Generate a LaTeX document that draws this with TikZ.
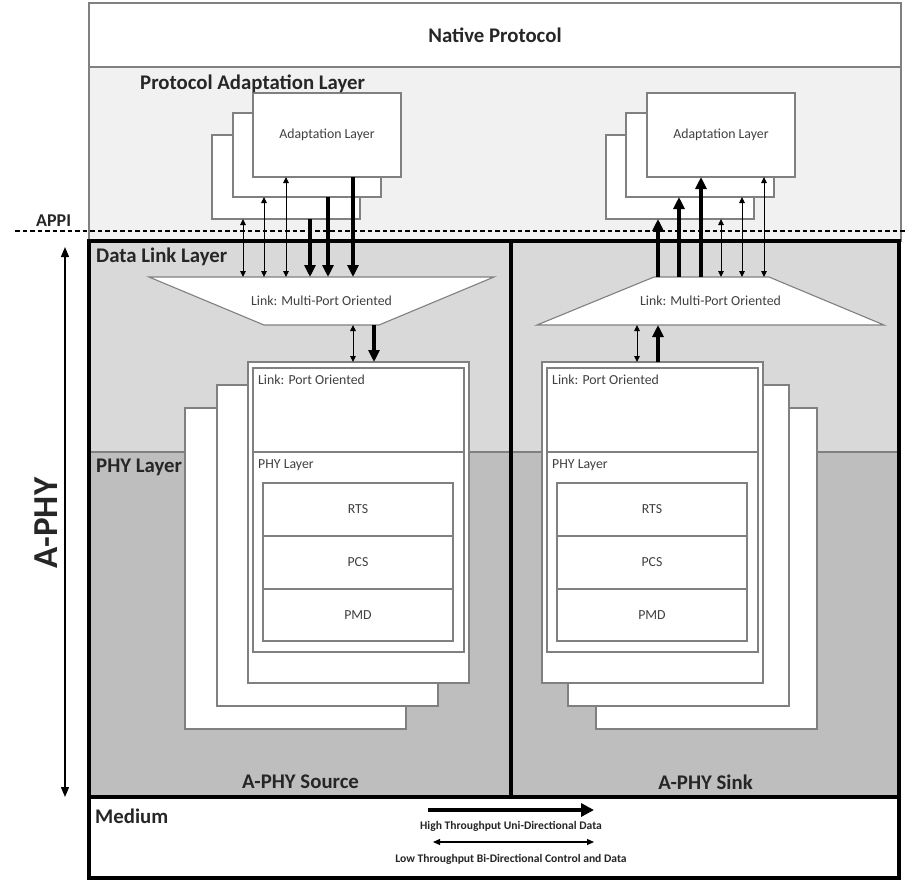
\documentclass[tikz,border=0pt]{standalone}
\usepackage{fontspec}
\setmainfont{Carlito}
\usetikzlibrary{arrows.meta,calc}
\definecolor{palgray}{HTML}{F1F1F1}
\definecolor{dllgray}{HTML}{D9D9D9}
\definecolor{phygray}{HTML}{BEBEBE}
\definecolor{edgegray}{HTML}{808080}
\definecolor{txtgray}{HTML}{404040}
\definecolor{headblack}{HTML}{262626}
\begin{document}
\begin{tikzpicture}[x=1pt,y=-1pt,
  band/.style={anchor=north west, inner sep=0pt, outer sep=0pt},
  plainbox/.style={draw=edgegray, fill=white, line width=1.1pt, inner sep=0pt, outer sep=0pt, anchor=north west},
  heading/.style={font=\bfseries\fontsize{20.8}{22}\selectfont, text=headblack, inner sep=0pt},
  boxlabel/.style={font=\fontsize{13.8}{15}\selectfont, text=txtgray, inner sep=0pt},
  legendtext/.style={font=\bfseries\fontsize{11.6}{13}\selectfont, text=headblack, inner sep=0pt},
  frame/.style={line width=4pt, draw=black},
  edge/.style={draw=edgegray, line width=1.1pt},
  thinarr/.style={line width=0.9pt, arrows={Triangle[length=6pt,width=5.5pt]-Triangle[length=6pt,width=5.5pt]}},
  thickarr/.style={line width=3.5pt, arrows={-Triangle[length=12pt,width=11pt]}},
]
\useasboundingbox (0,0) rectangle (908,881);

% ---- horizontal bands ----
\node[plainbox, minimum width=812pt, minimum height=64pt] (native) at (89,3) {};
\node[band, draw=edgegray, line width=1.1pt, fill=palgray, minimum width=812pt, minimum height=174pt] (pal) at (89,67) {};
\node[band, fill=dllgray, minimum width=810pt, minimum height=211pt] (dll) at (89,241) {};
\node[band, fill=phygray, minimum width=810pt, minimum height=345pt] (phy) at (89,452) {};
\node[band, fill=white, minimum width=810pt, minimum height=81pt] (medium) at (89,797) {};
\draw[edge] (phy.north west) -- (phy.north east);

% ---- APPI interface line ----
\coordinate (appiL) at (15,231);
\coordinate (appiR) at (908,231);
\draw[line width=1.8pt, dash pattern=on 4.5pt off 3pt] (appiL) -- (appiR);

% ---- adaptation layer stacks ----
\foreach \n/\x/\y in {alL3/212/135, alL2/233/113, alL1/253/93,
                      alR3/606/135, alR2/626/113, alR1/647/93}
  \node[plainbox, minimum width=148pt, minimum height=84pt] (\n) at (\x,\y) {};
\node[boxlabel] (alLtxt) at ($(alL1.north)+(0,42)$) {Adaptation Layer};
\node[boxlabel] (alRtxt) at ($(alR1.north)+(0,42)$) {Adaptation Layer};

% ---- multi-port link blocks ----
\node[band, anchor=center, minimum width=345pt, minimum height=48pt] (mpL) at (321.5,301) {};
\draw[edge, fill=white] (mpL.north west) -- (mpL.north east)
  -- ([xshift=-115pt]mpL.south east) -- ([xshift=115pt]mpL.south west) -- cycle;
\node[boxlabel] (mpLtxt) at (mpL.center) {Link: Multi-Port Oriented};

\node[band, anchor=center, minimum width=347pt, minimum height=48pt] (mpR) at (710.5,301) {};
\draw[edge, fill=white] ([xshift=117pt]mpR.north west) -- ([xshift=-115pt]mpR.north east)
  -- (mpR.south east) -- (mpR.south west) -- cycle;
\node[boxlabel] (mpRtxt) at (mpR.center) {Link: Multi-Port Oriented};

% ---- port oriented stacks ----
\foreach \n/\x/\y in {poL3/185/408, poL2/217/385, poL1/248/362,
                      poR3/596/408, poR2/568/385, poR1/542/362}
  \node[plainbox, minimum width=221pt, minimum height=321pt] (\n) at (\x,\y) {};
\node[plainbox, minimum width=211pt, minimum height=284pt] (poL1i) at (253,368) {};
\node[plainbox, minimum width=211pt, minimum height=284pt] (poR1i) at (547,368) {};
\draw[edge] (poL1i.west |- phy.north) -- (poL1i.east |- phy.north);
\draw[edge] (poR1i.west |- phy.north) -- (poR1i.east |- phy.north);
\node[boxlabel, anchor=west] (portL) at (258,380) {Link: Port Oriented};
\node[boxlabel, anchor=west] (portR) at (552,380) {Link: Port Oriented};
\node[boxlabel, anchor=west] (phyLtxt) at (258,465) {PHY Layer};
\node[boxlabel, anchor=west] (phyRtxt) at (552,465) {PHY Layer};

\foreach \s/\x in {L/263, R/557} {
  \node[plainbox, minimum width=190pt, minimum height=53pt] (rts\s) at (\x,483) {};
  \node[plainbox, minimum width=190pt, minimum height=53pt] (pcs\s) at (\x,536) {};
  \node[plainbox, minimum width=190pt, minimum height=52pt] (pmd\s) at (\x,589) {};
  \node[boxlabel] at (rts\s.center) {RTS};
  \node[boxlabel] at (pcs\s.center) {PCS};
  \node[boxlabel] at (pmd\s.center) {PMD};
}

% ---- A-PHY frame ----
\draw[frame] (dll.north west) rectangle (phy.south east);
\draw[frame] (511,0 |- dll.north) -- (511,0 |- phy.south);
\draw[frame] (medium.north west) rectangle (medium.south east);

% ---- connectors, source side ----
\draw[thinarr] (243,0 |- alL3.south) -- (243,0 |- mpL.north);
\draw[thinarr] (264,0 |- alL2.south) -- (264,0 |- mpL.north);
\draw[thinarr] (286,0 |- alL1.south) -- (286,0 |- mpL.north);
\draw[thickarr] (310,0 |- alL3.south) -- (310,0 |- mpL.north);
\draw[thickarr] (328,0 |- alL2.south) -- (328,0 |- mpL.north);
\draw[thickarr] (353,0 |- alL1.south) -- (353,0 |- mpL.north);
\draw[thinarr] (353,0 |- mpL.south) -- (353,0 |- poL1.north);
\draw[thickarr] (374,0 |- mpL.south) -- (374,0 |- poL1.north);

% ---- connectors, sink side ----
\draw[thickarr] (658,0 |- mpR.north) -- (658,0 |- alR3.south);
\draw[thickarr] (679,0 |- mpR.north) -- (679,0 |- alR2.south);
\draw[thickarr] (701,0 |- mpR.north) -- (701,0 |- alR1.south);
\draw[thinarr] (721,0 |- mpR.north) -- (721,0 |- alR3.south);
\draw[thinarr] (742,0 |- mpR.north) -- (742,0 |- alR2.south);
\draw[thinarr] (764,0 |- mpR.north) -- (764,0 |- alR1.south);
\draw[thinarr] (637,0 |- poR1.north) -- (637,0 |- mpR.south);
\draw[thickarr] (658,0 |- poR1.north) -- (658,0 |- mpR.south);

% ---- layer headings ----
\node[heading] (nativetxt) at (native.center) {Native Protocol};
\node[heading, anchor=west] (paltxt) at (140,84) {Protocol Adaptation Layer};
\node[heading, font=\bfseries\fontsize{18}{20}\selectfont, anchor=west] (appitxt) at (36,221) {APPI};
\node[heading, anchor=west] (dlltxt) at (96,257) {Data Link Layer};
\node[heading, anchor=west] (phytxt) at (96,467) {PHY Layer};
\node[heading] (srctxt) at (300.5,782) {A-PHY Source};
\node[heading] (sinktxt) at (705.5,782) {A-PHY Sink};
\node[heading, anchor=west] (medtxt) at (95,816) {Medium};

% ---- A-PHY extent ----
\coordinate (aphyT) at (65,247);
\coordinate (aphyB) at (65,797);
\draw[line width=1.3pt, arrows={Triangle[length=10pt,width=8pt]-Triangle[length=10pt,width=8pt]}] (aphyT) -- (aphyB);
\node[heading, font=\bfseries\fontsize{35}{38}\selectfont, rotate=90] (aphytxt) at (46,523) {A-PHY};

% ---- legend ----
\coordinate (hiA) at (428,810);
\coordinate (hiB) at (594,810);
\coordinate (loA) at (433,842);
\coordinate (loB) at (594,842);
\draw[line width=4pt, arrows={-Triangle[length=13pt,width=13pt]}] (hiA) -- (hiB);
\draw[line width=1.2pt, arrows={Triangle[length=7pt,width=6pt]-Triangle[length=7pt,width=6pt]}] (loA) -- (loB);
\node[legendtext] (hitxt) at (511,826) {High Throughput Uni-Directional Data};
\node[legendtext] (lotxt) at (511,859) {Low Throughput Bi-Directional Control and Data};
\end{tikzpicture}
\end{document}
